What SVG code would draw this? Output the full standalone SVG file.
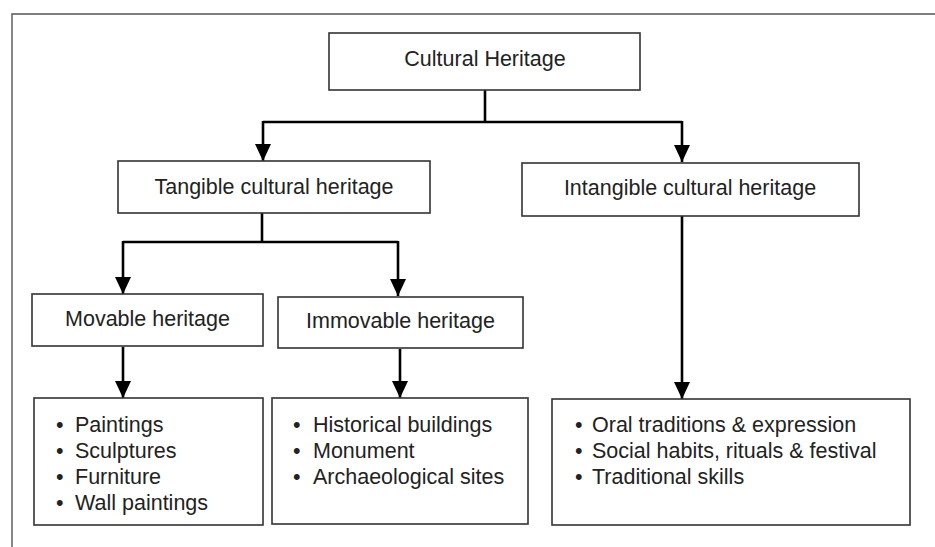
<svg xmlns="http://www.w3.org/2000/svg" width="935" height="547" viewBox="0 0 935 547">
<style>
.box{fill:#fff;stroke:#333;stroke-width:1.6}
.t{font-family:"Liberation Sans",Arial,sans-serif;font-size:21.5px;fill:#222}
.c{text-anchor:middle}
.con{fill:none;stroke:#000;stroke-width:2.6}
.frame{fill:none;stroke:#555;stroke-width:1.4}
</style>
<defs>
<marker id="ah" markerUnits="userSpaceOnUse" markerWidth="16" markerHeight="18" refX="8" refY="17" orient="0" viewBox="0 0 16 18">
<path d="M0,0 L16,0 L8,17 Z" fill="#000"/>
</marker>
</defs>
<rect width="935" height="547" fill="#fff"/>
<path class="frame" d="M12,547 V14 H935"/>
<g id="connectors">
<path class="con" d="M485,90 V122"/>
<path class="con" d="M263,122 H682"/>
<path class="con" d="M263,121 V161" marker-end="url(#ah)"/>
<path class="con" d="M682,121 V162" marker-end="url(#ah)"/>
<path class="con" d="M262,213 V242"/>
<path class="con" d="M123,242 H398"/>
<path class="con" d="M123,241 V294" marker-end="url(#ah)"/>
<path class="con" d="M398,241 V296" marker-end="url(#ah)"/>
<path class="con" d="M123,347 V398" marker-end="url(#ah)"/>
<path class="con" d="M400,349 V398" marker-end="url(#ah)"/>
<path class="con" d="M682,216 V399" marker-end="url(#ah)"/>
</g>
<g id="cultural-heritage">
<rect class="box" x="329" y="33" width="311" height="57"/>
<text class="t c" x="485" y="66">Cultural Heritage</text>
</g>
<g id="tangible">
<rect class="box" x="118" y="161" width="312" height="52"/>
<text class="t c" x="274" y="194">Tangible cultural heritage</text>
</g>
<g id="intangible">
<rect class="box" x="522" y="163" width="337" height="53"/>
<text class="t c" x="690" y="195">Intangible cultural heritage</text>
</g>
<g id="movable">
<rect class="box" x="32" y="294" width="231" height="52"/>
<text class="t c" x="147.5" y="326">Movable heritage</text>
</g>
<g id="immovable">
<rect class="box" x="278" y="297" width="245" height="51"/>
<text class="t c" x="400.5" y="328">Immovable heritage</text>
</g>
<g id="movable-list">
<rect class="box" x="34" y="398" width="229" height="127"/>
<text class="t" x="56" y="432">•</text><text class="t" x="75" y="432">Paintings</text>
<text class="t" x="56" y="458">•</text><text class="t" x="75" y="458">Sculptures</text>
<text class="t" x="56" y="484">•</text><text class="t" x="75" y="484">Furniture</text>
<text class="t" x="56" y="510">•</text><text class="t" x="75" y="510">Wall paintings</text>
</g>
<g id="immovable-list">
<rect class="box" x="272" y="398" width="256" height="126"/>
<text class="t" x="293" y="432">•</text><text class="t" x="313" y="432">Historical buildings</text>
<text class="t" x="293" y="458">•</text><text class="t" x="313" y="458">Monument</text>
<text class="t" x="293" y="484">•</text><text class="t" x="313" y="484">Archaeological sites</text>
</g>
<g id="intangible-list">
<rect class="box" x="552" y="399" width="358" height="126"/>
<text class="t" x="575" y="432">•</text><text class="t" x="592" y="432">Oral traditions &amp; expression</text>
<text class="t" x="575" y="458">•</text><text class="t" x="592" y="458">Social habits, rituals &amp; festival</text>
<text class="t" x="575" y="484">•</text><text class="t" x="592" y="484">Traditional skills</text>
</g>
</svg>
